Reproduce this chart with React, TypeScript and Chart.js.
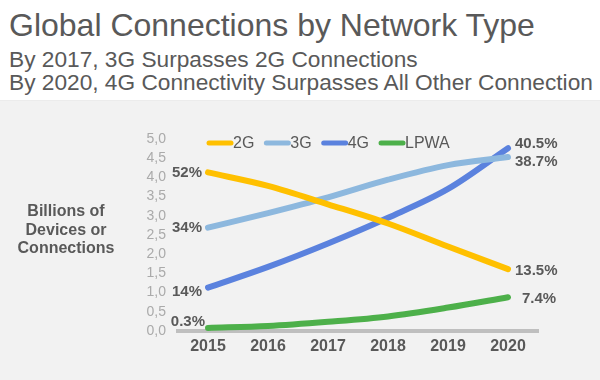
import React, { useEffect, useRef } from 'react';
import { Chart, registerables } from 'chart.js';

Chart.register(...registerables);

// ---- data ----
const years = ['2015', '2016', '2017', '2018', '2019', '2020'];
const seriesNames = ['2G', '3G', '4G', 'LPWA'];
const values2G = [4.13, 3.78, 3.3, 2.8, 2.2, 1.61];
const values3G = [2.69, 3.07, 3.48, 3.94, 4.32, 4.53];
const values4G = [1.13, 1.67, 2.28, 2.95, 3.7, 4.76];
const valuesLPWA = [0.08, 0.13, 0.24, 0.38, 0.61, 0.88];
const startLabels = ['52%', '34%', '14%', '0.3%'];
const endLabels = ['13.5%', '38.7%', '40.5%', '7.4%'];
const yMin = 0;
const yMax = 5;
const yStep = 0.5;

const titleText = 'Global Connections by Network Type';
const subtitleLines = [
  'By 2017, 3G Surpasses 2G Connections',
  'By 2020, 4G Connectivity Surpasses All Other Connection',
];
const yTitleLines = ['Billions of', 'Devices or', 'Connections'];

// ---- styles ----
const colors = ['#FFC000', '#8DB8DE', '#5B82DE', '#4DB04A'];
const textColor = '#595959';
const FONT = '"Liberation Sans", Arial, Helvetica, sans-serif';
// label offsets (dx, dy) relative to first/last point
const startOffsets = [
  [-6, 0],
  [-6, 0],
  [-6, 4],
  [-3, -6],
];
const endOffsets = [
  [7, 2],
  [7, 5],
  [7, -4],
  [14, 2],
];

const decorPlugin = {
  id: 'decor',
  afterDatasetsDraw(chart: any) {
    const ctx = chart.ctx;
    const area = chart.chartArea;
    ctx.save();
    // data labels
    ctx.font = `bold 15px ${FONT}`;
    ctx.fillStyle = textColor;
    ctx.textBaseline = 'middle';
    chart.data.datasets.forEach((ds: any, i: number) => {
      const meta = chart.getDatasetMeta(i);
      const first = meta.data[0];
      const last = meta.data[meta.data.length - 1];
      ctx.textAlign = 'right';
      ctx.fillText(startLabels[i], first.x + startOffsets[i][0], first.y + startOffsets[i][1]);
      ctx.textAlign = 'left';
      ctx.fillText(endLabels[i], last.x + endOffsets[i][0], last.y + endOffsets[i][1]);
    });
    // legend
    ctx.font = `16px ${FONT}`;
    ctx.textAlign = 'left';
    ctx.textBaseline = 'middle';
    let x = area.left + 29;
    const ly = area.top + 4;
    chart.data.datasets.forEach((ds: any, i: number) => {
      ctx.strokeStyle = ds.borderColor;
      ctx.lineWidth = 5;
      ctx.lineCap = 'round';
      ctx.beginPath();
      ctx.moveTo(x + 2, ly);
      ctx.lineTo(x + 24, ly);
      ctx.stroke();
      x += 26;
      ctx.fillStyle = textColor;
      ctx.fillText(ds.label, x, ly + 1);
      x += ctx.measureText(ds.label).width + 10;
    });
    // y-axis title
    ctx.font = `bold 16px ${FONT}`;
    ctx.textAlign = 'center';
    ctx.fillStyle = textColor;
    yTitleLines.forEach((line, i) => {
      ctx.fillText(line, 66, 212 + i * 18.5);
    });
    ctx.restore();
  },
};

export default function App() {
  const canvasRef = useRef<HTMLCanvasElement | null>(null);

  useEffect(() => {
    const canvas = canvasRef.current;
    if (!canvas) return;
    const seriesValues = [values2G, values3G, values4G, valuesLPWA];
    const chart = new Chart(canvas, {
      type: 'line',
      data: {
        labels: years,
        datasets: seriesNames.map((name, i) => ({
          label: name,
          data: seriesValues[i],
          borderColor: colors[i],
          backgroundColor: colors[i],
          borderWidth: 6,
          borderCapStyle: 'round',
          borderJoinStyle: 'round',
          pointRadius: 0,
          pointHoverRadius: 0,
          cubicInterpolationMode: 'monotone',
          fill: false,
        })),
      },
      options: {
        responsive: false,
        animation: false,
        devicePixelRatio: 1,
        layout: { padding: { top: 139, right: 62, left: 0, bottom: 0 } },
        plugins: {
          legend: { display: false },
          title: { display: false },
          tooltip: { enabled: false },
        },
        scales: {
          x: {
            offset: true,
            grid: { display: false, drawTicks: false },
            border: { display: true, color: '#BFBFBF', width: 4 },
            ticks: {
              color: textColor,
              font: { family: FONT, size: 16, weight: 'bold' },
              padding: 6,
              maxRotation: 0,
            },
            afterFit: (scale: any) => {
              scale.height = 49;
            },
          },
          y: {
            min: yMin,
            max: yMax,
            grid: { display: false, drawTicks: false },
            border: { display: false },
            ticks: {
              stepSize: yStep,
              autoSkip: false,
              color: '#AAAAAA',
              font: { family: FONT, size: 14 },
              padding: 12,
              callback: (v: any) => Number(v).toFixed(1).replace('.', ','),
            },
            afterFit: (scale: any) => {
              scale.width = 178;
            },
          },
        },
      },
      plugins: [decorPlugin],
    });
    return () => chart.destroy();
  }, []);

  return (
    <div
      style={{
        position: 'fixed',
        left: 0,
        top: 0,
        width: 600,
        height: 380,
        overflow: 'hidden',
        background: '#FFFFFF',
        fontFamily: FONT,
        color: textColor,
      }}
    >
      <div style={{ position: 'absolute', left: 0, top: 100, width: 600, height: 280, background: '#F2F2F2', borderTop: '1px solid #ECECEC' }} />
      <div style={{ position: 'absolute', left: 9, top: 9, fontSize: 32, lineHeight: '32px', whiteSpace: 'nowrap' }}>{titleText}</div>
      {subtitleLines.map((line, i) => (
        <div
          key={i}
          style={{ position: 'absolute', left: 9, top: 48 + i * 23, fontSize: 22.7, lineHeight: '23px', whiteSpace: 'nowrap' }}
        >
          {line}
        </div>
      ))}
      <canvas ref={canvasRef} width={600} height={380} style={{ position: 'absolute', left: 0, top: 0, width: 600, height: 380 }} />
    </div>
  );
}
